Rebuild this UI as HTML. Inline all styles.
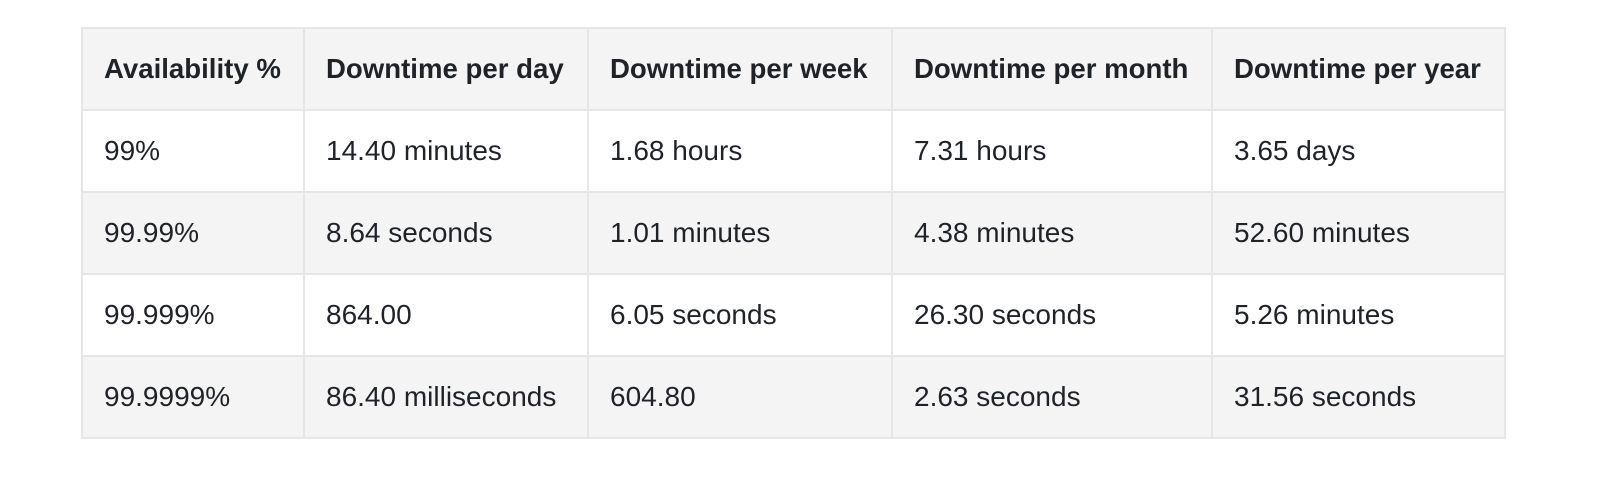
<!DOCTYPE html>
<html><head><meta charset="utf-8"><style>
html,body{margin:0;padding:0;background:#fff;width:1616px;height:482px;overflow:hidden}
table{position:absolute;left:81px;top:27px;border-collapse:collapse;table-layout:fixed;font-family:"Liberation Sans",sans-serif;font-size:28px;color:#1f2328}
td,th{border:2px solid #e6e6e6;height:80px;padding:0 0 0 21px;text-align:left;vertical-align:middle;white-space:nowrap;overflow:hidden}
th{font-weight:bold;background:#f4f4f4;font-size:27.6px}
tr.alt td{background:#f4f4f4}
</style></head><body>
<table>
<colgroup><col style="width:222px"><col style="width:284px"><col style="width:304px"><col style="width:320px"><col style="width:293px"></colgroup>
<tr><th>Availability %</th><th>Downtime per day</th><th>Downtime per week</th><th>Downtime per month</th><th>Downtime per year</th></tr>
<tr><td>99%</td><td>14.40 minutes</td><td>1.68 hours</td><td>7.31 hours</td><td>3.65 days</td></tr>
<tr class="alt"><td>99.99%</td><td>8.64 seconds</td><td>1.01 minutes</td><td>4.38 minutes</td><td>52.60 minutes</td></tr>
<tr><td>99.999%</td><td>864.00</td><td>6.05 seconds</td><td>26.30 seconds</td><td>5.26 minutes</td></tr>
<tr class="alt"><td>99.9999%</td><td>86.40 milliseconds</td><td>604.80</td><td>2.63 seconds</td><td>31.56 seconds</td></tr>
</table>
</body></html>
